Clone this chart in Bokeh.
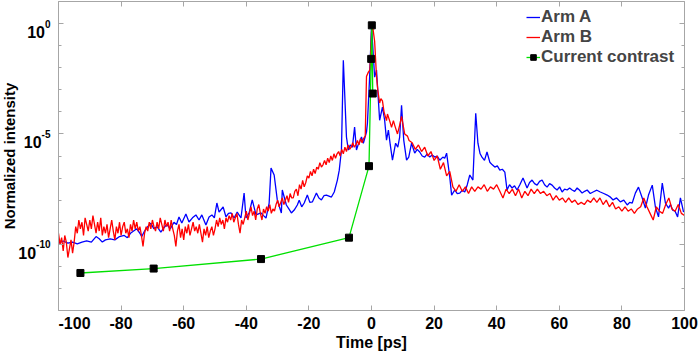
import math
from bokeh.plotting import figure
from bokeh.layouts import row
from bokeh.models import (Range1d, FixedTicker, LogAxis, LinearAxis, LogScale,
                          CustomJSTickFormatter, Legend, LegendItem)
from bokeh.core.properties import value
from bokeh.embed import file_html
from bokeh.resources import INLINE

# ---------------- data (time in ps, intensity as log10) ----------------
red_t = [-100, -99.5, -99, -98.5, -98, -97.5, -97, -96.5, -96, -95.5,
         -95, -94.5, -94, -93.5, -93, -92.5, -92, -91.5, -91, -90.5,
         -90, -89.5, -89, -88.5, -88, -87.5, -87, -86.5, -86, -85.5,
         -85, -84.5, -84, -83.5, -83, -82.5, -82, -81.5, -81, -80.5,
         -80, -79.5, -79, -78.5, -78, -77.5, -77, -76.5, -76, -75.5,
         -75, -74.5, -74, -73.5, -73, -72.5, -72, -71.5, -71, -70.5,
         -70, -69.5, -69, -68.5, -68, -67.5, -67, -66.5, -66, -65.5,
         -65, -64.5, -64, -63.5, -63, -62.5, -62, -61.5, -61, -60.5,
         -60, -59.5, -59, -58.5, -58, -57.5, -57, -56.5, -56, -55.5,
         -55, -54.5, -54, -53.5, -53, -52.5, -52, -51.5, -51, -50.5,
         -50, -49.5, -49, -48.5, -48, -47.5, -47, -46.5, -46, -45.5,
         -45, -44.5, -44, -43.5, -43, -42.5, -42, -41.5, -41, -40.5,
         -40, -39.5, -39, -38.5, -38, -37.5, -37, -36.5, -36, -35.5,
         -35, -34.5, -34, -33.5, -33, -32.5, -32, -31.5, -31, -30.5,
         -30, -29.5, -29, -28.5, -28, -27.5, -27, -26.5, -26, -25.5,
         -25, -24.5, -24, -23.5, -23, -22.5, -22, -21.5, -21, -20.5,
         -20, -19.5, -19, -18.5, -18, -17.5, -17, -16.5, -16, -15.5,
         -15, -14.5, -14, -13.5, -13, -12.5, -12, -11.5, -11, -10.5,
         -10, -9.5, -9, -8.5, -8, -7.5, -7, -6.5, -6, -5.5,
         -5, -4.5, -4, -3.5, -3, -2.5,
         -2, -1.6, -1, -0.5, 0, 0.3, 1, 1.6, 2, 2.6, 3, 3.5, 4, 4.8, 5.1, 6, 6.4, 7,
         7.4, 8.3, 9, 9.6, 10.6, 11.5,
         12, 13, 14, 15, 16, 17, 18, 19, 20, 21, 22, 23, 24, 25, 26, 27, 28, 29, 30, 31,
         32, 33, 34, 35, 36, 37, 38, 39, 40, 41, 42, 43, 44, 45, 46, 47, 48, 49, 50, 51,
         52, 53, 54, 55, 56, 57, 58, 59, 60, 61, 62, 63, 64, 65, 66, 67, 68, 69, 70, 71,
         72, 73, 74, 75, 76, 77, 78, 79, 80, 81, 82, 83, 84, 85, 86, 87, 88, 89, 90, 91,
         92, 93, 94, 95, 96, 97, 98, 99, 100]
red_log = [-9.5, -10.0, -9.7, -10.3, -9.6, -9.9, -10.6, -10.2, -9.8, -10.4,
           -9.9, -9.2, -9.5, -8.9, -9.3, -9.0, -9.6, -8.8, -9.1, -9.4,
           -8.9, -9.3, -8.7, -9.1, -9.5, -9.0, -9.4, -8.8, -9.6, -9.2,
           -9.5, -9.1, -9.7, -9.3, -8.9, -9.4, -9.8, -9.2, -9.5, -9.0,
           -9.6, -9.2, -9.0, -9.5, -9.3, -9.7, -9.1, -9.4, -8.9, -9.3,
           -9.0, -9.4, -9.2, -9.6, -10.1, -9.5, -9.2, -9.4, -9.0, -9.3,
           -8.9, -9.2, -9.4, -9.0, -9.3, -8.8, -9.1, -9.4, -8.9, -9.2,
           -9.0, -9.4, -8.9, -9.3, -9.6, -10.1, -9.4, -9.1, -9.7, -9.3,
           -9.8, -9.2, -9.5, -9.1, -9.6, -9.3, -9.0, -9.4, -9.2, -9.5,
           -9.1, -9.5, -9.9, -9.3, -9.6, -9.2, -9.7, -9.4, -9.2, -9.6,
           -9.3, -8.9, -9.2, -8.8, -9.1, -8.9, -9.3, -8.8, -9.0, -8.7,
           -8.9, -8.6, -9.0, -8.8, -8.6, -9.1, -9.5, -8.9, -9.1, -8.8,
           -8.5, -8.9, -8.6, -8.3, -8.7, -8.5, -8.9, -8.4, -8.2, -8.6,
           -8.9, -8.4, -8.6, -8.3, -8.5, -8.2, -8.6, -8.4, -8.5, -8.2,
           -8.0, -8.3, -8.1, -7.9, -8.2, -8.0, -7.8, -8.1, -7.7, -7.9,
           -7.9, -7.6, -7.5, -7.8, -7.3, -7.5, -7.1, -7.4, -7.2, -6.9,
           -7.0, -6.7, -6.9, -6.6, -6.8, -6.5, -6.6, -6.3, -6.5, -6.4,
           -6.2, -6.4, -6.1, -6.3, -6.0, -6.2, -5.9, -6.1, -5.9, -5.8,
           -6.0, -5.7, -5.9, -5.6, -5.8, -5.5, -5.7, -5.6, -5.4, -5.6,
           -5.5, -5.3, -5.5, -5.2, -5.4, -5.2,
           -5.1, -2.4, -2.2, -2.1, -0.4, -0.05, -0.8, -2.4, -3.0, -3.6, -3.4, -3.5, -4.0, -4.4, -4.1, -4.5, -4.7, -4.4,
           -4.6, -5.0, -4.6, -4.2, -5.0, -5.1,
           -5.3, -5.4, -5.7, -5.5, -5.8, -5.6, -6.0, -5.8, -6.2, -6.0, -6.6, -6.3, -6.9, -6.7, -7.4, -7.6, -7.3, -7.6, -7.4, -7.7,
           -7.4, -7.6, -7.4, -7.5, -7.3, -7.6, -7.4, -7.5, -7.3, -7.6, -7.9, -7.5, -7.7, -7.5, -7.8, -7.5, -7.9, -7.6, -7.8, -7.5,
           -7.7, -7.5, -7.7, -7.6, -7.8, -7.7, -8.0, -7.8, -8.0, -7.9, -8.1, -7.9, -8.1, -8.0, -8.2, -8.1, -8.2, -8.0, -8.1, -7.9,
           -8.1, -7.9, -8.2, -8.0, -8.3, -8.1, -8.4, -8.3, -8.5, -8.3, -8.5, -8.4, -8.6, -8.4, -8.3, -7.9, -8.3, -8.6, -8.9, -8.3,
           -8.5, -8.6, -8.2, -7.9, -8.4, -8.5, -8.2, -8.6, -8.7]

blue_t = [-100, -98.5, -97, -95.5, -94, -92.5, -91, -89.5, -88, -87, -86, -85, -83.5, -82, -80.5, -79,
          -78, -77, -76, -75, -74, -73.4, -72.5, -71.5, -70.5, -69.5, -68.5, -67.3, -66.3, -65.4, -64.3, -63.1,
          -62.3, -61.5, -60.6, -59.3, -58.3, -57.2, -56.1, -55.1, -54.2, -52.9, -51.9, -51.0, -50.2, -49.4, -48.7, -47.4,
          -46.5, -45.7, -44.9, -43.9, -42.9, -41.7, -40.7, -40.1, -39.1, -38.1, -36.9, -35.3, -34.5, -33.7, -32.7, -32.1,
          -31.1, -30.1, -28.8, -28.5, -27.2, -26.4, -25.6, -24.7, -23.7, -23.1, -22.3, -21.5, -20.5, -19.7, -18.9, -17.6,
          -16.8, -16.0, -15.2, -14.4, -12.8, -11.9, -10.9, -10.3, -9.6, -9.0, -8.0, -7.4, -6.8, -6.1, -5.4, -4.8,
          -4.3, -3.8, -3.2, -2.6, -1.6, -1.3, -0.6, 0.0, 1.0, 1.6, 2.6, 3.5, 4.2, 4.8, 5.4, 6.0,
          6.7, 7.7, 8.4, 9.0, 9.6, 10.3, 11.2, 11.9, 12.8, 13.8, 14.6, 15.4, 16.2, 17.0, 17.8, 18.6,
          19.4, 20.2, 21.0, 21.8, 22.8, 23.4, 24.0, 25.0, 25.6, 26.6, 27.4, 28.2, 29.0, 29.8, 30.6, 31.4,
          32.4, 33.3, 34.0, 34.7, 35.3, 36.1, 36.9, 37.8, 38.6, 39.4, 40.2, 41.0, 41.8, 42.6, 43.3, 44.1,
          44.9, 45.7, 46.5, 47.4, 48.4, 49.0, 49.7, 50.5, 51.3, 52.1, 52.9, 53.7, 54.5, 55.3, 56.1, 56.9,
          57.7, 58.5, 59.3, 60.1, 60.9, 61.7, 62.5, 63.3, 64.1, 64.9, 65.7, 66.5, 67.3, 68.1, 68.9, 69.9,
          70.8, 72.0, 73.1, 74.2, 75.3, 76.2, 77.2, 78.3, 79.5, 80.6, 81.7, 82.5, 83.3, 84.3, 85.3, 86.5,
          87.5, 88.5, 89.7, 90.7, 91.7, 92.9, 93.9, 94.9, 95.5, 96.2, 97.0, 97.8, 98.7, 99.7]
blue_log = [-9.95, -9.85, -9.95, -9.9, -9.98, -9.9, -9.85, -9.9, -9.65, -9.75, -9.9, -9.8, -9.75, -9.8, -9.65, -9.6,
            -9.7, -9.5, -9.4, -9.3, -9.5, -9.65, -9.4, -9.2, -9.05, -9.3, -9.2, -9.45, -9.25, -9.1, -9.3, -9.0,
            -9.1, -8.76, -9.04, -8.63, -8.99, -8.8, -8.67, -8.9, -8.67, -9.13, -8.76, -8.67, -8.8, -8.13, -8.54, -8.31,
            -8.76, -8.6, -8.58, -8.81, -8.54, -8.81, -7.68, -8.81, -8.58, -7.99, -8.67, -8.58, -8.7, -8.81, -8.13, -6.55,
            -6.86, -7.99, -8.58, -7.54, -8.22, -8.4, -8.58, -8.45, -8.22, -8.0, -8.3, -8.13, -7.77, -8.1, -8.08, -7.68,
            -7.9, -7.99, -7.8, -7.77, -7.86, -7.63, -7.09, -6.64, -5.73, -1.66, -5.14, -5.73, -5.5, -5.60, -4.69, -5.73,
            -5.5, -5.37, -5.14, -5.42, -4.92, -4.51, -2.43, -0.08, -2.43, -2.11, -4.38, -3.79, -4.38, -5.28, -4.83, -5.5,
            -6.19, -5.42, -5.6, -5.14, -3.70, -5.28, -6.19, -6.05, -5.42, -5.87, -5.7, -5.82, -6.0, -6.05, -5.9, -6.05,
            -5.95, -6.05, -6.0, -6.19, -6.05, -6.1, -5.87, -6.95, -7.77, -7.54, -7.7, -7.68, -7.55, -7.63, -7.3, -6.86,
            -7.09, -4.06, -5.42, -5.9, -6.05, -6.2, -5.82, -6.28, -6.4, -6.50, -6.45, -6.64, -6.6, -6.73, -7.54, -7.3,
            -7.45, -7.35, -7.54, -7.3, -7.00, -7.2, -7.45, -7.2, -7.09, -7.25, -7.32, -7.15, -7.09, -7.3, -7.41, -7.25,
            -7.32, -7.45, -7.54, -7.4, -7.63, -7.5, -7.54, -7.45, -7.54, -7.6, -7.45, -7.55, -7.68, -7.6, -7.54, -7.7,
            -7.63, -7.55, -7.63, -7.7, -7.77, -7.85, -7.99, -7.9, -8.08, -8.0, -8.22, -8.1, -8.13, -7.68, -7.41, -7.90,
            -8.36, -7.77, -7.32, -8.31, -8.76, -7.23, -8.13, -8.36, -8.2, -8.45, -8.5, -8.76, -7.90, -8.54]

contrast_t = [-93.0, -69.6, -35.3, -7.2, -0.8, -0.1, 0.1, 0.4]
contrast_log = [-11.3, -11.1, -10.67, -9.7, -6.46, -1.6, -0.08, -3.17]

x_ticks = [-100, -80, -60, -40, -20, 0, 20, 40, 60, 80, 100]
y_tick_values = [1e0, 1e-5, 1e-10]
y_tick_exponents = ["0", "-5", "-10"]
y_minor = [1e-13, 1e-12, 1e-11, 1e-10, 1e-9, 1e-8, 1e-7, 1e-6, 1e-5,
           1e-4, 1e-3, 1e-2, 1e-1, 1e0, 1e1]
y_label = "Normalized intensity"
x_label = "Time [ps]"

red_y = [10 ** v for v in red_log]
blue_y = [10 ** v for v in blue_log]
contrast_y = [10 ** v for v in contrast_log]

FONT = "Liberation Sans"
GRAY = "#a6a6a6"
LEFT_W = 58
TOP_B, BOT_B = 1, 44

yr = Range1d(1e-13, 1e1)

# ---------------- main plot ----------------
p = figure(width=700 - LEFT_W, height=354, x_range=Range1d(-100, 100), y_range=yr,
           y_axis_type="log", output_backend="svg", toolbar_location=None,
           min_border_left=0, min_border_right=16, min_border_top=TOP_B,
           min_border_bottom=BOT_B)
p.grid.visible = False
p.outline_line_color = None
p.background_fill_color = "white"
p.border_fill_color = "white"

xt = FixedTicker(ticks=x_ticks, minor_ticks=[])
yt = FixedTicker(ticks=y_tick_values, minor_ticks=y_minor)
blank = CustomJSTickFormatter(code="return ''")


def style(ax):
    ax.axis_line_color = GRAY
    ax.major_tick_line_color = GRAY
    ax.minor_tick_line_color = GRAY
    ax.major_tick_in = 5
    ax.major_tick_out = 0
    ax.minor_tick_in = 3
    ax.minor_tick_out = 0
    ax.major_label_text_font = FONT
    ax.major_label_text_font_style = "bold"
    ax.major_label_text_font_size = "16px"
    ax.major_label_text_color = "black"
    ax.axis_label_text_font = FONT
    ax.axis_label_text_font_style = "bold"
    ax.axis_label_text_color = "black"


xa = p.xaxis[0]
style(xa)
xa.ticker = xt
xa.formatter = CustomJSTickFormatter(code="return tick.toFixed(0)")
xa.axis_label = x_label
xa.axis_label_text_font_size = "16px"
xa.major_label_standoff = 6
xa.axis_label_standoff = 2

ya = p.yaxis[0]
style(ya)
ya.ticker = yt
ya.formatter = blank
ya.major_label_text_font_size = "0px"
ya.major_label_standoff = 0

top = LinearAxis(ticker=xt, formatter=blank)
style(top)
top.major_label_text_font_size = "0px"
top.major_label_standoff = 0
p.add_layout(top, "above")

right = LogAxis(ticker=yt, formatter=blank)
style(right)
right.major_label_text_font_size = "0px"
right.major_label_standoff = 0
p.add_layout(right, "right")

r_blue = p.line(blue_t, blue_y, line_color="#0000ff", line_width=1.3)
r_red = p.line(red_t, red_y, line_color="#ff0000", line_width=1.3)
r_green = p.line(contrast_t, contrast_y, line_color="#00e000", line_width=1.3)
r_sq = p.scatter(contrast_t, contrast_y, marker="square", size=7,
                 fill_color="black", line_color="black")

legend = Legend(items=[LegendItem(label="Arm A", renderers=[r_blue]),
                       LegendItem(label="Arm B", renderers=[r_red]),
                       LegendItem(label="Current contrast", renderers=[r_green, r_sq])],
                location=(468, 243))
legend.label_text_font = FONT
legend.label_text_font_style = "bold"
legend.label_text_font_size = "17px"
legend.glyph_width = 14
legend.glyph_height = 20
legend.label_height = 20
legend.label_standoff = 1
legend.spacing = 0
legend.padding = 0
legend.margin = 0
legend.border_line_color = None
legend.background_fill_alpha = 0
p.add_layout(legend)

# ---------------- left margin strip: y tick labels + y axis label ----------------
q = figure(width=LEFT_W, height=354, x_range=Range1d(0, LEFT_W), y_range=yr,
           output_backend="svg", toolbar_location=None,
           x_axis_location=None, y_axis_location=None,
           min_border_left=0, min_border_right=0, min_border_top=TOP_B,
           min_border_bottom=BOT_B)
q.y_scale = LogScale()
q.grid.visible = False
q.outline_line_color = None
q.background_fill_color = "white"
q.border_fill_color = "white"

EXP_SIZE = 10
EXP_RIGHT = 50
exp_w = [EXP_SIZE * sum(0.333 if c == "-" else 0.556 for c in ex) for ex in y_tick_exponents]
q.text(x=[EXP_RIGHT] * len(y_tick_values), y=y_tick_values, text=y_tick_exponents,
       text_align="right", text_baseline="alphabetic", text_font=value(FONT),
       text_font_style="bold", text_font_size=f"{EXP_SIZE}px", text_color="black")
q.text(x=[EXP_RIGHT - w for w in exp_w], y=y_tick_values, text=["10"] * len(y_tick_values),
       y_offset=8.5, text_align="right", text_baseline="alphabetic", text_font=value(FONT),
       text_font_style="bold", text_font_size="16px", text_color="black")
q.text(x=[9], y=[math.sqrt(yr.start * yr.end)], text=[y_label], angle=math.pi / 2,
       text_align="center", text_baseline="middle", text_font=value(FONT),
       text_font_style="bold", text_font_size="15px", text_color="black")

layout = row(q, p)
open("out.html", "w").write(file_html(layout, INLINE))
